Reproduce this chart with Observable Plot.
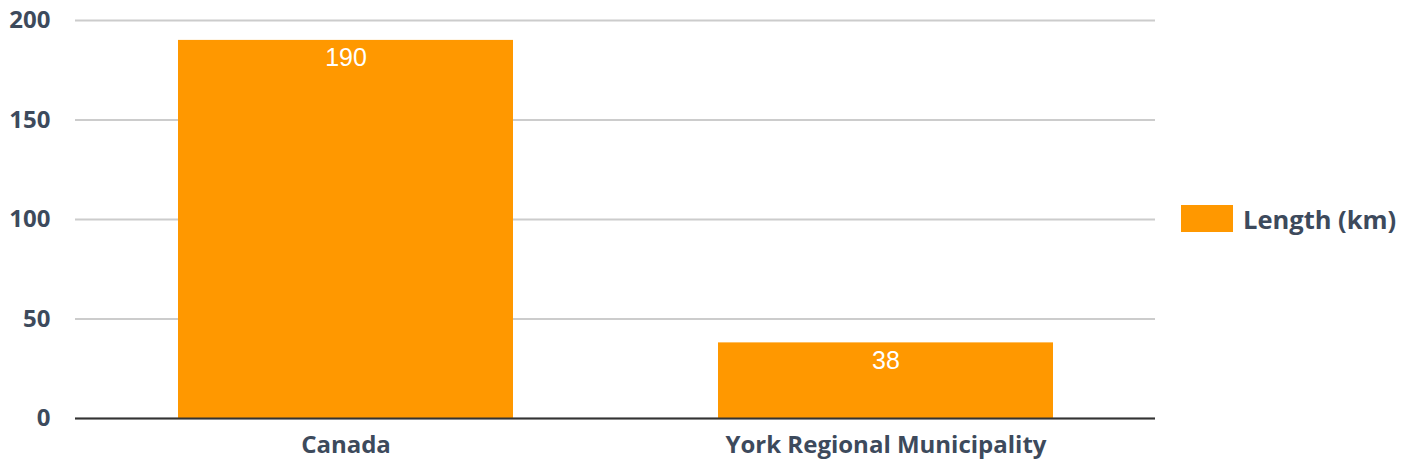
<!DOCTYPE html>
<html>
<head>
<meta charset="utf-8">
<script src="https://cdn.jsdelivr.net/npm/d3@7"></script>
<script src="https://cdn.jsdelivr.net/npm/@observablehq/plot@0.6"></script>
<style>
  html, body { margin: 0; padding: 0; background: #fff; }
  #wrap { position: relative; width: 1409px; height: 470px; }
  #legend { position: absolute; left: 1181px; top: 205px; height: 27px; display: flex; align-items: center;
    font-family: "Open Sans", sans-serif; font-weight: 700; font-size: 25.5px; color: #3d4a5c; }
  #legend .sw { width: 52px; height: 27px; background: #ff9800; margin-right: 10px; flex: none; }
</style>
</head>
<body>
<div id="wrap"><div id="legend"><div class="sw"></div><span>Length (km)</span></div></div>
<script>
const categories = ["Canada", "York Regional Municipality"];
const values = [190, 38];
const seriesName = "Length (km)";
const yTicks = [0, 50, 100, 150, 200];

const data = categories.map((c, i) => ({ category: c, value: values[i] }));

const chart = Plot.plot({
  width: 1409,
  height: 470,
  marginLeft: 75,
  marginRight: 254,
  marginTop: 20,
  marginBottom: 52,
  style: { fontFamily: "'Open Sans', sans-serif", background: "#fff" },
  x: { domain: categories, paddingInner: 0.38, paddingOuter: 0.19, label: null },
  y: { domain: [0, 200], label: null },
  marks: [
    Plot.gridY(yTicks, { stroke: "#cccccc", strokeOpacity: 1, strokeWidth: 2 }),
    Plot.barY(data, { x: "category", y: "value", fill: "#ff9800" }),
    Plot.ruleY([0], { stroke: "#333333", strokeWidth: 2 }),
    Plot.text(data, { x: "category", y: "value", text: d => String(d.value), dy: 18, fill: "#ffffff",
      fontSize: 25, fontFamily: "Arial, 'Liberation Sans', sans-serif", lineAnchor: "middle" }),
    Plot.axisY(yTicks, { tickSize: 0, tickPadding: 25, fontSize: 24, fontWeight: 700, fill: "#3d4a5c", label: null }),
    Plot.axisX({ tickSize: 0, tickPadding: 17, fontSize: 24, fontWeight: 700, fill: "#3d4a5c", label: null })
  ]
});
document.getElementById("wrap").prepend(chart);
chart.style.position = "absolute";
chart.style.left = "0";
chart.style.top = "0";
</script>
</body>
</html>
